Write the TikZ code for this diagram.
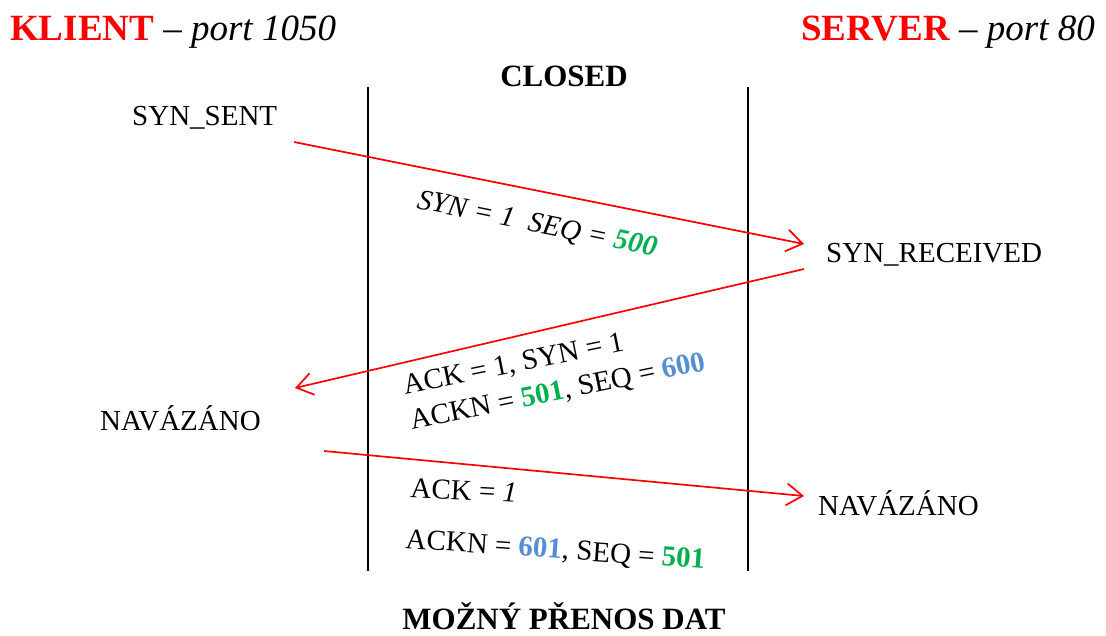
\documentclass[tikz,border=0pt]{standalone}
\usepackage{fontspec}
\setmainfont{Liberation Serif}
\usetikzlibrary{arrows.meta}
\definecolor{seqgreen}{HTML}{00B050}
\definecolor{acklblue}{HTML}{558ED5}
\definecolor{hdrred}{HTML}{FF0000}
\newcommand{\gnum}[1]{\textbf{\textcolor{seqgreen}{#1}}}
\newcommand{\bnum}[1]{\textbf{\textcolor{acklblue}{#1}}}
\begin{document}
\begin{tikzpicture}[x=1pt,y=-1pt,
  txt/.style={inner sep=0pt,font=\fontsize{29}{35}\selectfont},
  hdr/.style={inner sep=0pt,font=\fontsize{37}{44}\selectfont},
  ttl/.style={inner sep=0pt,font=\fontsize{31}{37}\selectfont\bfseries},
  lifeline/.style={line width=1.7pt,black},
  msg/.style={line width=1.7pt,hdrred,-{Straight Barb[length=16pt,width=22pt,line width=1.7pt]}}]
  \useasboundingbox (0,0) rectangle (1106,635);

  % headers
  \node[hdr,anchor=base west] (klient) at (10,40) {\textbf{\textcolor{hdrred}{KLIENT}} \textit{– port 1050}};
  \node[hdr,anchor=base east] (server) at (1095,40) {\textbf{\textcolor{hdrred}{SERVER}} \textit{– port 80}};
  \node[ttl,anchor=base] (closed) at (564,86) {CLOSED};
  \node[ttl,anchor=base] (prenos) at (564,629) {MOŽNÝ PŘENOS DAT};

  % lifelines
  \coordinate (l1t) at (368,87);  \coordinate (l1b) at (368,571);
  \coordinate (l2t) at (748,87);  \coordinate (l2b) at (748,571);
  \draw[lifeline] (l1t) -- (l1b);
  \draw[lifeline] (l2t) -- (l2b);

  % states
  \node[txt,anchor=base west] (synsent) at (132,125) {SYN\_SENT};
  \node[txt,anchor=base west] (synrcv) at (826,262) {SYN\_RECEIVED};
  \node[txt,anchor=base west] (navk) at (100,430) {NAVÁZÁNO};
  \node[txt,anchor=base west] (navs) at (818,515) {NAVÁZÁNO};

  % message end points
  \coordinate (a1s) at (294,142); \coordinate (a1e) at (804,244);
  \coordinate (a2s) at (804,269); \coordinate (a2e) at (295,388);
  \coordinate (a3s) at (324,451); \coordinate (a3e) at (804,496);
  \draw[msg] (a1s) -- (a1e);
  \draw[msg] (a2s) -- (a2e);
  \draw[msg] (a3s) -- (a3e);

  % message labels
  \node[txt,anchor=base west,rotate=-11.5] (m1) at (416,208) {\textit{SYN = 1\ \ SEQ = \gnum{500}}};
  \node[txt,anchor=base west,rotate=11.5] (m2a) at (405,395) {ACK = 1, SYN = 1};
  \node[txt,anchor=base west,rotate=11.5] (m2b) at (412,430) {ACKN = \gnum{501}, SEQ = \bnum{600}};
  \node[txt,anchor=base west,rotate=-3] (m3a) at (410,497) {ACK = \textit{1}};
  \node[txt,anchor=base west,rotate=-4] (m3b) at (405,548) {ACKN = \bnum{601}, SEQ = \gnum{501}};
\end{tikzpicture}
\end{document}
